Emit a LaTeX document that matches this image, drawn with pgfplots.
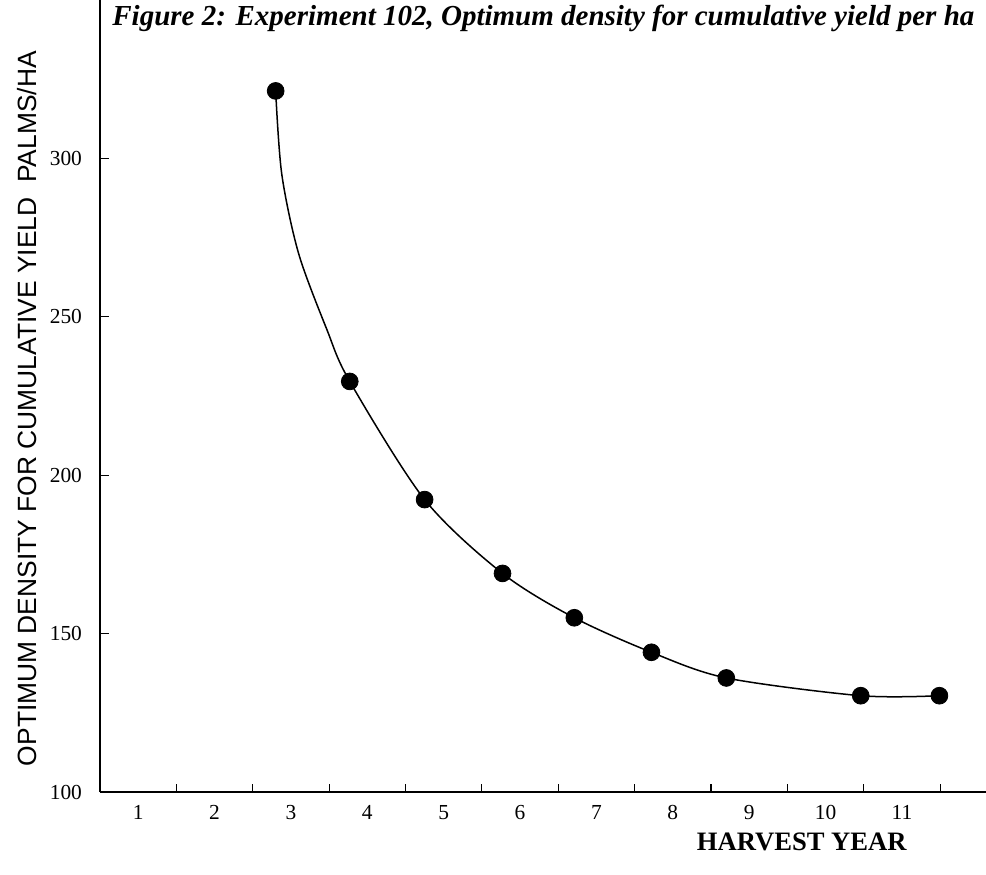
\documentclass[border=0pt]{standalone}
\usepackage{fontspec}
\setmainfont{Liberation Serif}
\newfontfamily\ylabfont{Liberation Sans}
\usepackage{pgfplots}
\pgfplotsset{compat=1.18}
\begin{document}
\begin{tikzpicture}
\begin{axis}[
 name=ax,
 scale only axis,
 width=443pt, height=396pt,
 xmin=0.5, xmax=12.1, ymin=100, ymax=350,
 axis x line=bottom, axis y line=left,
 axis line style={-, line width=1pt},
 xtick={1,...,11},
 minor xtick={1.5,2.5,...,11.5},
 ytick={100,150,...,300},
 tick align=inside,
 major tick length=4.5pt,
 minor tick length=4pt,
 major x tick style={draw=none},
 minor x tick style={line width=0.6pt, black},
 major y tick style={line width=0.7pt, black},
 /pgf/number format/assume math mode=true,
 tick label style={font=\fontsize{10.7}{12}\selectfont},
 xticklabel style={yshift=-3pt},
 yticklabel style={xshift=-5.5pt},
 xlabel={HARVEST YEAR},
 xlabel style={at={(axis description cs:0.792,-0.063)}, anchor=center, font=\bfseries\fontsize{13.3}{15}\selectfont},
 ylabel={OPTIMUM DENSITY FOR CUMULATIVE YIELD\ \ PALMS/HA},
 ylabel style={at={(axis description cs:-0.082,0.484)}, anchor=center, font=\ylabfont\fontsize{13.2}{15}\selectfont},
 clip=false,
]
% curve as drawn in the figure
\addplot[black, line width=0.75pt, smooth, no markers] coordinates {
(2.80,321.3) (2.88,295) (3.10,270) (3.47,246) (3.77,229.6) (4.75,192.3) (5.77,169.0) (6.71,155.0) (7.72,144.1) (8.70,136.0) (10.46,130.4) (11.49,130.4)
};
% observed points
\addplot[only marks, black, mark=*, mark size=4.2pt, mark options={fill=black}] coordinates {
(2.80,321.3) (3.77,229.6) (4.75,192.3) (5.77,169.0) (6.71,155.0) (7.72,144.1) (8.70,136.0) (10.46,130.4) (11.49,130.4)
};
\end{axis}
\node[anchor=north west, inner sep=0pt, font=\bfseries\itshape\fontsize{14.5}{16}\selectfont] at ([xshift=6pt,yshift=-2.5pt]ax.north west) {Figure 2: Experiment 102, Optimum density for cumulative yield per ha};
\pgfresetboundingbox
\path ([xshift=-50pt,yshift=-41pt]ax.south west) rectangle (ax.north east);
\end{tikzpicture}
\end{document}
